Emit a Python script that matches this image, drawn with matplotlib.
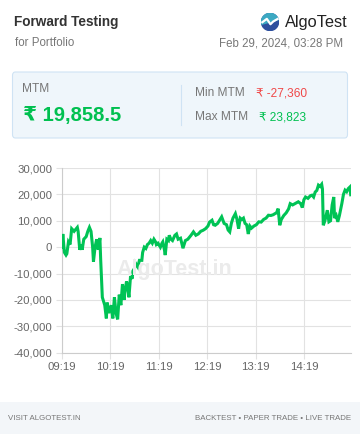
import matplotlib
matplotlib.use("Agg")
import matplotlib.pyplot as plt
from matplotlib.patches import FancyBboxPatch, Rectangle, Wedge
from matplotlib.lines import Line2D

plt.rcParams['font.family'] = ['Liberation Sans', 'DejaVu Sans']

# ---- data ----
minutes = [0, 1, 3, 5, 6, 8, 10, 12, 15, 19, 20, 22, 24, 25, 27, 30, 32, 34, 36, 38,
           39, 41, 43, 45, 47, 48, 50, 53, 55, 56, 58,
           61, 63, 65, 67, 69, 71, 73, 75, 77, 78, 80, 81, 83, 85, 87, 88, 90, 91, 93, 94,
           96, 99, 100, 102, 104, 106, 108, 110, 112, 114, 116, 117, 119, 122, 124, 125, 127, 128, 130,
           132, 133, 135, 137, 140, 142, 144, 147,
           150, 153, 156, 160, 163, 166, 169, 172, 175, 178, 181, 183, 186, 188, 190, 193, 196, 198,
           201, 204, 206, 208, 210, 212, 215, 217, 219, 221, 223, 225, 227, 229, 231, 233, 235, 238,
           241, 244, 247, 250, 253, 256, 259, 262, 264, 266, 268, 270, 272, 275, 278, 281, 283, 286,
           289, 293, 296, 298, 300, 302, 305, 308, 310, 312, 314, 316, 318, 320, 322, 323, 324, 326,
           329, 331, 333, 335, 337, 338, 340, 342, 344, 347, 349, 351, 353, 355, 357, 358]
mtm = [0, 5000, -2000, -3000, -2500, 2000, 1000, 7000, 6000, 7500, 6000, -1000, 1000, -1000, 3000, 4000, 6000, 7500, 6000, 0,
       -5500, 0, 3000, -1000, 3500, -5000, -19000, -22000, -27000, -21000, -25000,
       -22000, -27000, -19000, -25000, -27360, -18000, -22000, -14000, -20000, -17000, -13000, -14000, -19000, -11000, -12000, -9000, -8000, -6000, -7000, -7500,
       -5000, -5000, -2000, 0, -500, 1000, 1500, 2500, 1500, 3000, 2000, 1000, 1500, 0, 1500, 2000, -1000, -3000, 3000,
       2500, 4500, 3000, 2500, 4500, 5000, 3000, 3400,
       -400, 2500, 3000, 4500, 5800, 4500, 5000, 6000, 6400, 7000, 8000, 9500, 10200, 8500, 8300, 9000, 10500, 11500,
       9000, 8500, 6500, 5800, 9000, 11000, 12700, 10500, 7000, 11000, 10500, 11000, 9000, 8500, 5000, 8000, 7200, 8000,
       8500, 9600, 9500, 10500, 11000, 12100, 12000, 12300, 12700, 13000, 14600, 8300, 10500, 12000, 13000, 14500, 16500, 16000,
       16500, 17200, 16500, 15000, 18000, 19000, 18500, 19500, 19700, 19000, 20900, 21500, 23500, 23000, 23823, 22000, 8300, 10000,
       14000, 9600, 10000, 16000, 19000, 11000, 12000, 9600, 12000, 16500, 20000, 21600, 21000, 22200, 22800, 19858.5]

x_ticks = [0, 60, 120, 180, 240, 300]
x_tick_labels = ["09:19", "10:19", "11:19", "12:19", "13:19", "14:19"]
y_ticks = [30000, 20000, 10000, 0, -10000, -20000, -30000, -40000]

title = "Forward Testing"
subtitle = "for Portfolio"
brand = "AlgoTest"
timestamp = "Feb 29, 2024, 03:28 PM"
mtm_now = "₹ 19,858.5"
min_mtm = "₹ -27,360"
max_mtm = "₹ 23,823"

W, H = 360, 434
fig = plt.figure(figsize=(W / 100, H / 100), dpi=100)
fig.patch.set_facecolor('white')

def fx(x):
    return x / W

def fy(y):
    return 1 - y / H

GREEN = '#00c050'
GRAY = '#777777'

# header
fig.text(fx(14), fy(22), title, fontsize=9.8, fontweight='bold', color='#333333', va='center', ha='left')
fig.text(fx(15), fy(43), subtitle, fontsize=8.3, color=GRAY, va='center', ha='left')
fig.text(fx(285), fy(22), brand, fontsize=11.8, color='#222222', va='center', ha='left')
fig.text(fx(343), fy(43), timestamp, fontsize=8.3, color=GRAY, va='center', ha='right')

# logo
lax = fig.add_axes([fx(261), fy(31), fx(18), 18 / H])
lax.set_xlim(-1, 1)
lax.set_ylim(-1, 1)
lax.set_aspect('equal')
lax.axis('off')
lax.add_patch(Wedge((0, 0), 0.95, 0, 360, color='#2d4f9e'))
lax.add_patch(Wedge((0, 0), 0.95, 15, 195, color='#3ca9c2'))
lax.plot([-0.95, -0.35, 0.05, 0.35, 0.95], [-0.1, 0.35, -0.25, 0.05, 0.4], color='white', lw=1.6,
         solid_capstyle='butt')

# summary box
box = FancyBboxPatch((fx(12.5), fy(138)), fx(335), 66 / H,
                     boxstyle="round,pad=0,rounding_size=0.008",
                     transform=fig.transFigure, facecolor='#eff6fb', edgecolor='#cfe3f4', lw=0.8)
fig.patches.append(box)
fig.text(fx(22), fy(89), "MTM", fontsize=8.6, color=GRAY, va='center', ha='left')
fig.text(fx(23), fy(115), mtm_now, fontsize=14.5, fontweight='bold', color=GREEN, va='center', ha='left')
fig.add_artist(Line2D([fx(180.5), fx(180.5)], [fy(85), fy(125)], transform=fig.transFigure,
                      color='#cfe3f4', lw=0.8))
fig.text(fx(195), fy(93), "Min MTM", fontsize=8.6, color=GRAY, va='center', ha='left')
fig.text(fx(256), fy(93), min_mtm, fontsize=8.6, color='#f04848', va='center', ha='left')
fig.text(fx(195), fy(117), "Max MTM", fontsize=8.6, color=GRAY, va='center', ha='left')
fig.text(fx(259), fy(117), max_mtm, fontsize=8.6, color=GREEN, va='center', ha='left')

# chart
ax_l, ax_r, ax_t, ax_b = 62, 350.7, 168, 352.7
ax = fig.add_axes([fx(ax_l), fy(ax_b), fx(ax_r - ax_l), (ax_b - ax_t) / H])
ax.plot(minutes, mtm, color='#00c355', lw=2.2, solid_joinstyle='miter', zorder=3)
ax.set_xlim(0, minutes[-1])
ax.set_ylim(-40000, 30000)
ax.set_yticks(y_ticks)
ax.set_yticklabels([f"{v:,}" for v in y_ticks])
ax.set_xticks(x_ticks)
ax.set_xticklabels(x_tick_labels)
ax.grid(True, color='#e2e2e2', lw=0.8)
ax.set_axisbelow(True)
for s in ['top', 'right']:
    ax.spines[s].set_visible(False)
for s in ['left', 'bottom']:
    ax.spines[s].set_color('#cccccc')
    ax.spines[s].set_linewidth(0.8)
ax.tick_params(axis='both', colors='#e2e2e2', labelcolor='#666666', labelsize=8.2, length=4, width=0.8, pad=3)
ax.set_facecolor('white')

# watermark
fig.text(fx(174), fy(269), "AlgoTest.in", fontsize=15.5, fontweight='bold', color='#ebebeb',
         ha='center', va='center', zorder=1)

# footer
fig.patches.append(Rectangle((0, 0), 1, 32 / H, transform=fig.transFigure, facecolor='#f3f6f9', edgecolor='none'))
fig.text(fx(8), fy(418), "VISIT ALGOTEST.IN", fontsize=5.7, color='#777777', va='center', ha='left')
fig.text(fx(351), fy(418), "BACKTEST • PAPER TRADE • LIVE TRADE", fontsize=5.65, color='#777777', va='center', ha='right')

fig.savefig('out.png', dpi=100, facecolor='white')
